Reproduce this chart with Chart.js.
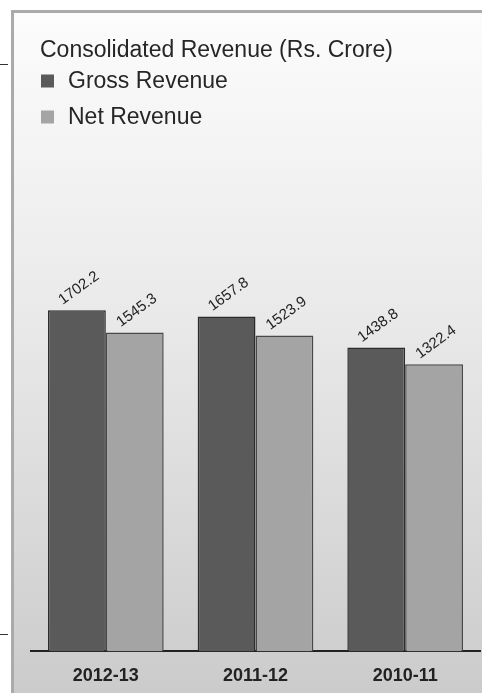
<!DOCTYPE html>
<html>
<head>
    <meta charset="UTF-8">
    <title>Consolidated Revenue</title>
    <script src="https://cdn.jsdelivr.net/npm/chart.js"></script>
    <style>
        html, body { margin: 0; padding: 0; background: #fff; }
        #wrap { position: relative; width: 482px; height: 693px; overflow: hidden; }
        #panel {
            position: absolute; left: 11px; top: 10px; width: 471px; height: 683px;
            border-left: 3px solid #aaa; border-top: 3px solid #aaa;
            background: linear-gradient(#fcfcfc, #e9e9e9 45%, #cbcbcb);
        }
        .tick { position: absolute; left: 0; width: 8px; height: 1px; background: #333; }
        canvas { position: absolute; left: 0; top: 0; }
    </style>
</head>
<body>
<div id="wrap">
    <div id="panel"></div>
    <div class="tick" style="top:64px"></div>
    <div class="tick" style="top:634px"></div>
    <canvas id="myChart" width="482" height="693"></canvas>
</div>

<script>
    // data
    const years = ['2012-13', '2011-12', '2010-11'];
    const grossRevenue = [1702.2, 1657.8, 1438.8];
    const netRevenue = [1545.3, 1523.9, 1322.4];
    const chartTitle = 'Consolidated Revenue (Rs. Crore)';

    // value axis does not start at zero in the original artwork
    const yMin = -700;
    const yMax = 2830;

    const FONT = "'Liberation Sans', Arial, sans-serif";

    // title + stacked legend in the top-left corner
    const headerPlugin = {
        id: 'header',
        afterDraw(chart) {
            const c = chart.ctx;
            c.save();
            c.fillStyle = '#262626';
            c.font = '23px ' + FONT;
            c.textBaseline = 'middle';
            c.fillText(chartTitle, 40, 51);
            chart.data.datasets.forEach((ds, i) => {
                const y = 81 + i * 36;
                c.fillStyle = ds.backgroundColor;
                c.fillRect(41, y - 6.5, 13, 13);
                c.fillStyle = '#262626';
                c.fillText(ds.label, 68, y + 1);
            });
            c.restore();
        }
    };

    // rotated value labels over the bars
    const valueLabels = {
        id: 'valueLabels',
        afterDatasetsDraw(chart) {
            const c = chart.ctx;
            c.save();
            c.fillStyle = '#222';
            c.font = '15px ' + FONT;
            c.textAlign = 'center';
            c.textBaseline = 'middle';
            chart.data.datasets.forEach((ds, i) => {
                chart.getDatasetMeta(i).data.forEach((bar, j) => {
                    c.save();
                    c.translate(bar.x + 2, bar.y - 22);
                    c.rotate(-36 * Math.PI / 180);
                    c.fillText(ds.data[j].toFixed(1), 0, 0);
                    c.restore();
                });
            });
            c.restore();
        }
    };

    const ctx = document.getElementById('myChart').getContext('2d');
    const myChart = new Chart(ctx, {
        type: 'bar',
        data: {
            labels: years,
            datasets: [{
                label: 'Gross Revenue',
                data: grossRevenue,
                backgroundColor: '#5a5a5a',
                borderColor: '#2c2c2c',
                borderWidth: 1.5,
                base: yMin
            }, {
                label: 'Net Revenue',
                data: netRevenue,
                backgroundColor: '#a4a4a4',
                borderColor: '#484848',
                borderWidth: 1.5,
                base: yMin
            }]
        },
        options: {
            responsive: false,
            animation: false,
            layout: { padding: { left: 31, right: 2, top: 150, bottom: 0 } },
            datasets: { bar: { barPercentage: 1, categoryPercentage: 0.773 } },
            plugins: {
                legend: { display: false },
                tooltip: { enabled: false }
            },
            scales: {
                x: {
                    grid: { display: false },
                    border: { display: true, color: '#222', width: 2 },
                    ticks: {
                        color: '#222',
                        padding: 6,
                        font: { family: FONT, size: 18, weight: 'bold' }
                    }
                },
                y: {
                    display: false,
                    min: yMin,
                    max: yMax
                }
            }
        },
        plugins: [headerPlugin, valueLabels]
    });
</script>
</body>
</html>
